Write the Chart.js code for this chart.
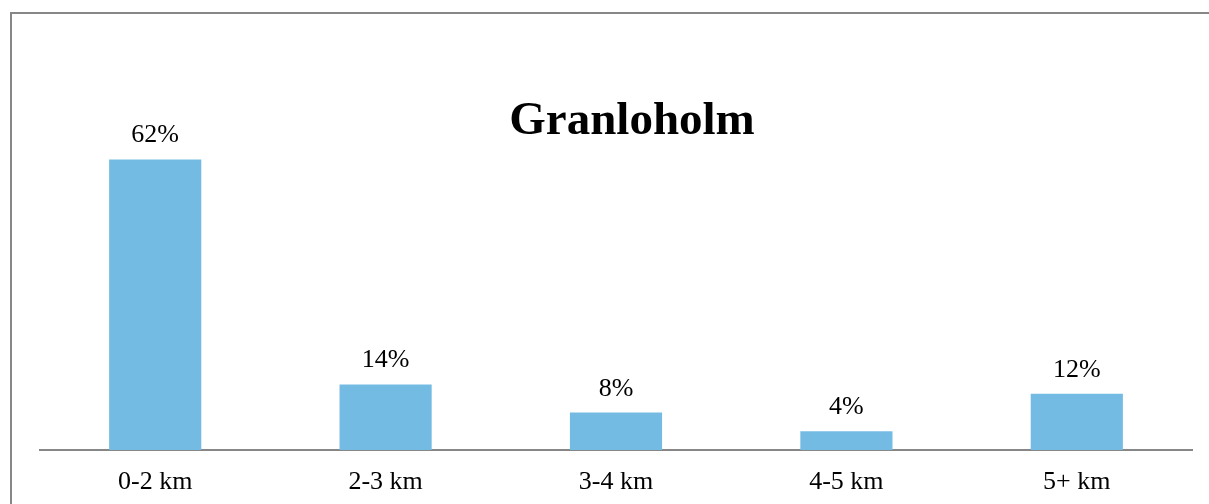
<!DOCTYPE html>
<html>
<head>
<meta charset="utf-8">
<script src="https://cdn.jsdelivr.net/npm/chart.js@4/dist/chart.umd.min.js"></script>
<style>
  html, body { margin: 0; padding: 0; background: #fff; }
  #wrap { position: relative; width: 1209px; height: 504px; overflow: hidden; }
  #frame { position: absolute; left: 10px; top: 12px; width: 1300px; height: 600px;
           border-top: 2px solid #878787; border-left: 2px solid #878787; pointer-events: none; }
  canvas { position: absolute; left: 0; top: 0; }
</style>
</head>
<body>
<div id="wrap">
  <canvas id="c" width="1209" height="504"></canvas>
  <div id="frame"></div>
</div>
<script>
const chartTitle = 'Granloholm';
const categories = ['0-2 km', '2-3 km', '3-4 km', '4-5 km', '5+ km'];
const shares = [62, 14, 8, 4, 12];
const valueLabels = ['62%', '14%', '8%', '4%', '12%'];

const FONT = "'Liberation Serif', 'Times New Roman', serif";

const titlePlugin = {
  id: 'customTitle',
  afterDraw(chart) {
    const ctx = chart.ctx;
    ctx.save();
    ctx.font = 'bold 47px ' + FONT;
    ctx.fillStyle = '#000';
    ctx.textAlign = 'center';
    ctx.textBaseline = 'alphabetic';
    ctx.fillText(chartTitle, 632, 134);
    ctx.restore();
  }
};

const valueLabelPlugin = {
  id: 'valueLabels',
  afterDatasetsDraw(chart) {
    const ctx = chart.ctx;
    const meta = chart.getDatasetMeta(0);
    ctx.save();
    ctx.font = '26px ' + FONT;
    ctx.fillStyle = '#000';
    ctx.textAlign = 'center';
    ctx.textBaseline = 'alphabetic';
    meta.data.forEach((bar, i) => {
      ctx.fillText(valueLabels[i], bar.x, bar.y - 17);
    });
    ctx.restore();
  }
};

new Chart(document.getElementById('c'), {
  type: 'bar',
  data: {
    labels: categories,
    datasets: [{
      data: shares,
      backgroundColor: '#74BBE4',
      borderWidth: 0,
      categoryPercentage: 1.0,
      barPercentage: 0.4
    }]
  },
  options: {
    responsive: false,
    animation: false,
    devicePixelRatio: 1,
    layout: { padding: { left: 40, right: 17, top: 75, bottom: 0 } },
    plugins: {
      legend: { display: false },
      title: { display: false },
      tooltip: { enabled: false }
    },
    scales: {
      x: {
        z: 1,
        grid: { display: false, drawTicks: false, tickLength: 0 },
        border: { display: true, color: '#878787', width: 2 },
        ticks: {
          color: '#000',
          padding: 17,
          font: { family: FONT, size: 26, lineHeight: 1.2 }
        },
        afterFit(scale) { scale.height = 54; }
      },
      y: {
        display: false,
        min: 0,
        max: 80
      }
    }
  },
  plugins: [titlePlugin, valueLabelPlugin]
});
</script>
</body>
</html>
